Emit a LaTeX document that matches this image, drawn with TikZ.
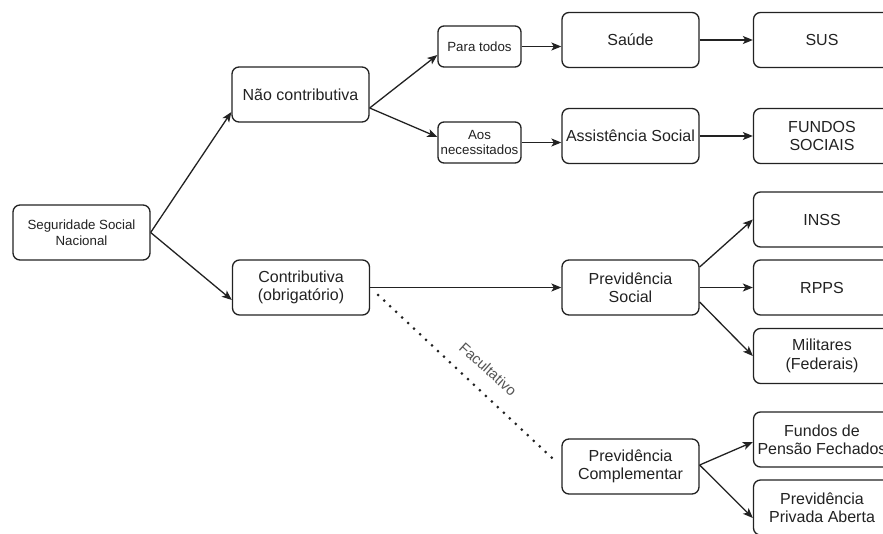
\documentclass[tikz,border=0pt]{standalone}
\usepackage{fontspec}
\setmainfont{Liberation Sans}
\usetikzlibrary{arrows.meta,calc}
\definecolor{ink}{HTML}{222222}
\definecolor{lbl}{HTML}{555555}
\tikzset{
  box/.style={draw=ink, line width=1.3pt, rounded corners=7pt, text=ink,
    minimum width=137pt, minimum height=55pt, inner sep=1pt, align=center,
    font=\fontsize{16}{18.4}\selectfont},
  smallbox/.style={box, minimum width=83pt, minimum height=41pt, rounded corners=6pt,
    font=\fontsize{13.3}{15.5}\selectfont},
  ssnbox/.style={box, font=\fontsize{13.3}{16.5}\selectfont},
  arr/.style={draw=ink, line width=1.3pt, -{Stealth[length=10pt,width=8pt,inset=2.5pt]}},
  dots/.style={draw=ink, line width=3pt, line cap=round, dash pattern=on 0pt off 8.2pt},
  lab/.style={text=lbl, font=\fontsize{14.7}{16}\selectfont, inner sep=0pt}
}
\begin{document}
\begin{tikzpicture}[x=1pt,y=-1pt]
\useasboundingbox (0,0) rectangle (883,533);
\fill[white] (0,0) rectangle (883,533);
\begin{scope}
\clip (0,0) rectangle (883,533);
\node[ssnbox] (ssn) at (81.5,232.5) {Seguridade Social\\Nacional};
\node[box] (nc) at (300.5,94.5) {Não contributiva};
\node[box] (ct) at (301,287.5) {Contributiva\\(obrigatório)};
\node[smallbox] (pt) at (479.5,46.5) {Para todos};
\node[smallbox] (an) at (479.5,142.5) {Aos\\necessitados};
\node[box] (sa) at (630.5,40) {Saúde};
\node[box] (as) at (630.5,136) {Assistência Social};
\node[box] (sus) at (822,40) {SUS};
\node[box] (fs) at (822,136) {FUNDOS\\SOCIAIS};
\node[box] (inss) at (822,219.5) {INSS};
\node[box] (rpps) at (822,287.5) {RPPS};
\node[box] (mil) at (822,356) {Militares\\(Federais)};
\node[box] (fpf) at (822,439.5) {Fundos de\\Pensão Fechados};
\node[box] (ppa) at (822,507.5) {Previdência\\Privada Aberta};
\node[box] (ps) at (630.5,287.5) {Previdência\\Social};
\node[box] (pc) at (630.5,466.5) {Previdência\\Complementar};

\draw[arr] (ssn.east) -- ($(nc.west)+(0,17.5)$);
\draw[arr] (ssn.east) -- ($(ct.west)+(0,12.5)$);
\draw[arr] ($(nc.east)+(0,13.5)$) -- ($(pt.west)+(0,8.5)$);
\draw[arr] ($(nc.east)+(0,13.5)$) -- ($(an.west)+(0,-5.5)$);
\draw[arr] (pt.east) -- (pt.east -| sa.west);
\draw[arr] (an.east) -- (an.east -| as.west);
\draw[arr] (sa.east) -- (sus.west);
\draw[arr] (as.east) -- (fs.west);
\draw[arr] (ct.east) -- (ps.west);
\draw[arr] ($(ps.east)+(0,-20.5)$) -- (inss.west);
\draw[arr] (ps.east) -- (rpps.west);
\draw[arr] ($(ps.east)+(0,14.5)$) -- (mil.west);
\draw[arr] ($(pc.east)+(0,-1.5)$) -- ($(fpf.west)+(0,2.5)$);
\draw[arr] ($(pc.east)+(0,-1.5)$) -- ($(ppa.west)+(0,10.5)$);

\coordinate (d1) at ($(ct.east)+(8,7.5)$);
\coordinate (d2) at ($(pc.west)+(-5,-4.5)$);
\draw[dots] (d1) -- (d2);
\node[lab, rotate=-42] (fac) at (488,369) {Facultativo};
\end{scope}
\end{tikzpicture}
\end{document}
